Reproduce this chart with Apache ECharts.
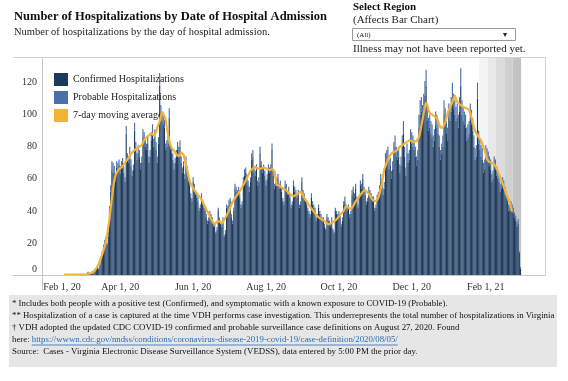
<!DOCTYPE html>
<html><head><meta charset="utf-8">
<script src="https://cdn.jsdelivr.net/npm/echarts@6/dist/echarts.min.js"></script>
<style>html,body{margin:0;padding:0;background:#fff;}#c{width:568px;height:381px;}</style>
</head><body><div id="c"></div>
<script>
// ---- data ----
const startYMD = [2020, 0, 27];   // first category on the axis
const nDays = 421;                // categories on the axis
const barStart = 35;              // index of first bar (Mar 2, 2020)
const maStart = 18;               // index of first moving-average point (Feb 14, 2020)

const confirmed = [
0,0,1,2,1,1,2, 2,3,3,4,5,4,6, 10,14,17,20,22,19,24, 40,52,66,64,63,58,67,
66,69,63,67,70,64,58, 88,72,70,75,68,62,66, 90,78,72,76,74,66,70, 86,84,80,78,82,70,74,
84,88,80,86,78,70,82, 118,100,96,94,92,78,80, 82,98,78,76,72,66,70, 74,78,76,80,70,64,68,
60,70,64,58,56,48,46, 58,54,50,48,46,40,42, 48,44,42,40,36,32,34, 38,36,34,30,30,26,28,
40,34,32,30,34,24,26, 42,40,44,46,36,32,40, 54,52,50,52,48,42,44, 58,62,64,60,56,52,58,
72,74,64,62,66,56,58, 76,68,64,66,62,56,60, 66,64,66,78,62,54,56, 58,60,54,56,52,46,44,
56,54,50,52,48,42,44, 56,52,50,48,50,42,44, 58,50,48,46,44,40,38, 36,48,44,42,40,34,36,
42,38,36,34,34,30,28, 36,34,32,30,34,28,26, 40,38,36,38,36,30,34, 44,46,42,40,42,36,38,
50,52,48,54,46,42,48, 56,54,60,52,50,44,46, 52,50,48,46,46,40,42, 46,48,52,58,56,50,54,
70,72,74,66,68,60,66, 76,80,74,72,74,64,68, 80,88,74,62,76,70,72, 84,82,80,78,74,68,72,
92,100,102,98,104,112,118, 96,90,92,88,86,80,84, 94,92,88,80,72,76,80, 100,96,88,84,98,96,102,
110,104,100,96,98,92,102, 118,100,96,94,92,84,86, 88,98,94,90,80,72,74, 110,82,78,74,72,64,66,
74,72,70,68,66,58,60, 68,66,62,60,58,52,54, 56,54,50,48,46,40,40, 42,40,38,36,34,30,32,
14,4];

const probable = [
0,0,0,0,0,0,0, 0,0,1,0,1,0,1, 1,1,2,2,2,1,3, 3,4,5,6,5,4,4,
4,3,5,4,3,4,3, 5,4,4,5,4,3,3, 5,5,4,5,4,4,4, 5,5,5,4,5,4,4,
5,6,5,5,5,4,4, 8,6,5,6,5,4,4, 5,6,4,4,4,4,3, 4,5,4,4,4,3,3,
3,4,4,3,3,3,2, 3,3,3,3,3,2,2, 3,3,2,2,2,2,2, 2,2,2,2,2,1,2,
2,2,2,2,2,1,2, 2,3,3,2,2,2,2, 3,3,3,3,3,2,2, 3,4,3,3,3,3,3,
4,4,3,3,3,3,3, 4,3,3,3,3,3,3, 3,3,3,4,3,3,3, 3,3,3,3,3,2,2,
3,3,3,3,2,2,2, 3,3,3,3,3,2,2, 3,3,3,2,2,2,2, 2,3,2,2,2,2,2,
2,2,2,2,2,2,1, 2,2,2,2,2,1,1, 2,2,2,2,2,2,2, 2,3,2,2,2,2,2,
3,3,3,3,3,2,2, 3,3,3,3,3,2,2, 3,3,3,3,3,2,2, 4,4,4,5,4,4,4,
6,6,6,6,5,5,5, 7,7,6,6,6,5,6, 7,8,6,5,6,6,6, 7,7,7,6,6,6,6,
8,9,9,8,9,9,10, 9,8,8,8,8,7,7, 8,8,8,7,6,6,7, 9,8,8,8,9,8,9,
10,9,9,9,9,8,9, 11,9,9,8,8,8,8, 8,9,9,8,7,7,7, 10,8,7,7,7,6,6,
7,7,7,6,6,5,5, 6,6,6,5,5,5,5, 5,5,5,4,4,4,4, 4,4,4,3,3,3,3,
1,1];

const movingAvg = [
0.3,0.3,0.3,0.3,0.3,0.3,0.3,0.3,0.3,0.3,0.3,0.3,0.3,0.3,0.3,0.3,0.3,0.3,0.3,
0.4,0.7,0.9,1,1.1,
1.5,2,3,4,5.5,7,9, 11,13,15.5,18,21,25,30, 35,42,48,54,59,62,64,
65,66,66.5,67,68,69,70, 71,72,73,74.5,75.5,76.5,77.5, 78,78.5,79,79.5,80,80.5,81,
82,84,85,86,86.5,87,88, 88.5,89,87,86,89,92,94, 96,99,102,101,99,97,92,
88,84,81,79.5,78.5,77.5,77, 75.5,74.5,74,75,76.5,77,75, 72,69,66,62,59,57,55.5,
54.5,53,52,51,50,49,48, 47,45.5,44,42.5,41,39.5,38, 36.5,35,33.5,32.5,31.5,32.5,33.5,
34,33.5,32.5,32,33,34.5,35.5, 37,38.5,40,42,44,45.5,47, 48,49,50,51,52,53.5,55,
56,57.5,59,60.5,62,63.5,65, 66,66.5,67,67.5,67,66.5,66.5, 66,66.5,67,67,67,66.5,66,
66,65.5,66,66,65.5,65,60, 56,55.5,56,55,54.5,54,53.5, 53.5,53,52,51,50.5,50,49.5,
49,49.5,50,50.5,51,51.5,52, 51,49.5,48,47,46,45,43.5, 42.5,41.5,40.5,39.5,38.5,37.5,36.5,
36,35.5,35,34.5,34,33.5,33, 32,31.5,31.5,32,32.5,33,33.5, 34,34.5,35.5,36.5,37.5,38.5,39,
40,41.5,43,43,42,41.5,41, 41.5,43,44.5,46,47,48,49, 50,51,52,53,53,52.5,51.5,
51,49.5,48,47,46.5,46,46, 46.5,48,50.5,54,57,62,66, 68,70,72,73.5,75,76,76.5,
76.5,77,77.5,78,79,80,80.5, 81,81.5,82,82.5,83,83.5,84, 84,83.5,83,83,83,83.5,84,
86,89,93,97,101,105,107.5, 106,103,101,100.5,100,99.5,99, 98.5,98,96,94,92,91.5,92,
93,95,98,101,103,104,106, 108,110,112,110,108,107,106.5, 106,105.5,105,104.5,104,104,103.5,
103,101,98,95,92,90,88.5, 87.5,86,85,84,82,80,78, 75,72,71,70.5,70,70,70,
69,68,66.5,65,63,61,59, 57,55,53,51,49,47,45, 42,39.5];

const tickLabels = ['Feb 1, 20','Apr 1, 20','Jun 1, 20','Aug 1, 20','Oct 1, 20','Dec 1, 20','Feb 1, 21'];
const shadeStart = 366;   // first day of "may not have been reported yet" bands
const shadeLen = 7;
const shadeColors = ['#f4f4f4','#e8e8e8','#dcdcdc','#d0d0d0','#c3c3c3'];

const footLines = [
 '* Includes both people with a positive test (Confirmed), and symptomatic with a known exposure to COVID-19 (Probable).',
 '** Hospitalization of a case is captured at the time VDH performs case investigation. This underrepresents the total number of hospitalizations in Virginia',
 '\u2020 VDH adopted the updated CDC COVID-19 confirmed and probable surveillance case definitions on August 27, 2020. Found',
 'here: ',
 'Source:  Cases - Virginia Electronic Disease Surveillance System (VEDSS), data entered by 5:00 PM the prior day.'
];
const footLink = 'https://wwwn.cdc.gov/nndss/conditions/coronavirus-disease-2019-covid-19/case-definition/2020/08/05/';

// ---- build ----
const MON = ['Jan','Feb','Mar','Apr','May','Jun','Jul','Aug','Sep','Oct','Nov','Dec'];
const cats = [];
for (let i = 0; i < nDays; i++) {
  const d = new Date(Date.UTC(startYMD[0], startYMD[1], startYMD[2] + i));
  cats.push(MON[d.getUTCMonth()] + ' ' + d.getUTCDate() + ', ' + String(d.getUTCFullYear()).slice(2));
}
function place(arr, start) {
  const out = new Array(nDays).fill(null);
  arr.forEach((v, i) => { out[start + i] = v; });
  return out;
}
const confData = place(confirmed, barStart);
const probData = place(probable, barStart);
const maData = place(movingAvg, maStart);

const SERIF = '"Liberation Serif", "Times New Roman", serif';
const FOOT_FONT = '8.8px ' + SERIF;
const cv = document.createElement('canvas').getContext('2d');
cv.font = FOOT_FONT;
const footX = 12, footY0 = 304, footDY = 12;
const hereW = cv.measureText('here: ').width;
const linkW = cv.measureText(footLink).width;

const chart = echarts.init(document.getElementById('c'), null, { renderer: 'canvas' });

function buildGraphic() {
  const g = [
    { type: 'text', x: 14, y: 17, style: { text: 'Number of Hospitalizations by Date of Hospital Admission', font: 'bold 12.5px ' + SERIF, fill: '#111', verticalAlign: 'middle' } },
    { type: 'text', x: 14, y: 32, style: { text: 'Number of hospitalizations by the day of hospital admission.', font: '10.5px ' + SERIF, fill: '#222', verticalAlign: 'middle' } },
    { type: 'text', x: 353, y: 7, style: { text: 'Select Region', font: 'bold 11px ' + SERIF, fill: '#111', verticalAlign: 'middle' } },
    { type: 'text', x: 353, y: 20.5, style: { text: '(Affects Bar Chart)', font: '11px ' + SERIF, fill: '#222', verticalAlign: 'middle' } },
    { type: 'rect', shape: { x: 352.5, y: 28.5, width: 163, height: 12 }, style: { fill: '#fff', stroke: '#9a9a9a', lineWidth: 1 } },
    { type: 'text', x: 357, y: 35, style: { text: '(All)', font: '7px ' + SERIF, fill: '#222', verticalAlign: 'middle' } },
    { type: 'text', x: 505, y: 34.5, style: { text: '\u25BE', font: '8px "DejaVu Sans"', fill: '#222', verticalAlign: 'middle', align: 'center' } },
    { type: 'text', x: 353, y: 49, style: { text: 'Illness may not have been reported yet.', font: '11px ' + SERIF, fill: '#222', verticalAlign: 'middle' } },
    { type: 'line', shape: { x1: 13, y1: 57.5, x2: 545.5, y2: 57.5 }, style: { stroke: '#d2d2d2', lineWidth: 1 }, z: 10 },
    { type: 'line', shape: { x1: 545.5, y1: 57.5, x2: 545.5, y2: 275.5 }, style: { stroke: '#d2d2d2', lineWidth: 1 }, z: 10 },
    { type: 'line', shape: { x1: 42.5, y1: 57.5, x2: 42.5, y2: 290 }, style: { stroke: '#c6c6c6', lineWidth: 1 }, z: 10 },
    { type: 'line', shape: { x1: 13, y1: 275.5, x2: 545.5, y2: 275.5 }, style: { stroke: '#c6c6c6', lineWidth: 1 }, z: 10 },
    { type: 'rect', shape: { x: 9, y: 295, width: 548, height: 72 }, style: { fill: '#e6e6e6' } }
  ];
  // "may not have been reported yet" shading, positioned through the category axis
  shadeColors.forEach((c, i) => {
    const a = chart.convertToPixel({ xAxisIndex: 0 }, shadeStart + i * shadeLen);
    const b = chart.convertToPixel({ xAxisIndex: 0 }, shadeStart + (i + 1) * shadeLen);
    const half = (b - a) / (2 * shadeLen);
    g.push({ type: 'rect', shape: { x: a - half, y: 58, width: b - a, height: 217 }, style: { fill: c }, z: -10, zlevel: 0, silent: true });
  });
  footLines.forEach((t, i) => {
    g.push({ type: 'text', x: footX, y: footY0 + i * footDY, style: { text: t, font: FOOT_FONT, fill: '#111', verticalAlign: 'middle' }, z: 5 });
  });
  g.push({ type: 'text', x: footX + hereW, y: footY0 + 3 * footDY, style: { text: footLink, font: FOOT_FONT, fill: '#2b6cb0', verticalAlign: 'middle' }, z: 5 });
  g.push({ type: 'line', shape: { x1: footX + hereW, y1: footY0 + 3 * footDY + 5, x2: footX + hereW + linkW, y2: footY0 + 3 * footDY + 5 }, style: { stroke: '#2b6cb0', lineWidth: 0.8 }, z: 5 });
  return g;
}

chart.setOption({
  animation: false,
  backgroundColor: 'transparent',
  grid: { left: 42, right: 23, top: 57, bottom: 106, containLabel: false },
  legend: {
    orient: 'vertical', left: 49, top: 68, itemWidth: 14, itemHeight: 13, itemGap: 5,
    icon: 'rect', selectedMode: false,
    textStyle: { fontFamily: SERIF, fontSize: 10, color: '#222' },
    data: ['Confirmed Hospitalizations', 'Probable Hospitalizations', '7-day moving average']
  },
  xAxis: {
    type: 'category', data: cats, boundaryGap: true,
    axisLine: { show: false }, axisTick: { show: false },
    axisLabel: {
      interval: (idx, val) => tickLabels.includes(val),
      formatter: v => (v === tickLabels[0] ? '{a|' + v + '}' : v),
      margin: 7, fontFamily: SERIF, fontSize: 10, color: '#333',
      rich: { a: { fontFamily: SERIF, fontSize: 10, color: '#333', padding: [0, 0, 0, 27] } }
    }
  },
  yAxis: {
    type: 'value', min: 0, max: 136, interval: 20,
    splitLine: { show: false }, axisLine: { show: false }, axisTick: { show: false },
    axisLabel: {
      showMaxLabel: false, margin: 5, fontFamily: SERIF, fontSize: 10, color: '#333',
      formatter: v => (v === 0 ? '{z|0}' : String(v)),
      rich: { z: { fontFamily: SERIF, fontSize: 10, color: '#333', padding: [0, 0, 12, 0] } }
    }
  },
  series: [
    { name: 'Confirmed Hospitalizations', type: 'bar', stack: 'h', data: confData,
      barCategoryGap: '5%', itemStyle: { color: '#1c3a5e' }, z: 2 },
    { name: 'Probable Hospitalizations', type: 'bar', stack: 'h', data: probData,
      barCategoryGap: '5%', itemStyle: { color: '#4a70a8' }, z: 2 },
    { name: '7-day moving average', type: 'line', data: maData, symbol: 'none',
      connectNulls: false, itemStyle: { color: '#f5b335' },
      lineStyle: { color: '#f5b335', width: 2.2 }, z: 4 }
  ]
});
chart.setOption({ graphic: buildGraphic() });
</script></body></html>
